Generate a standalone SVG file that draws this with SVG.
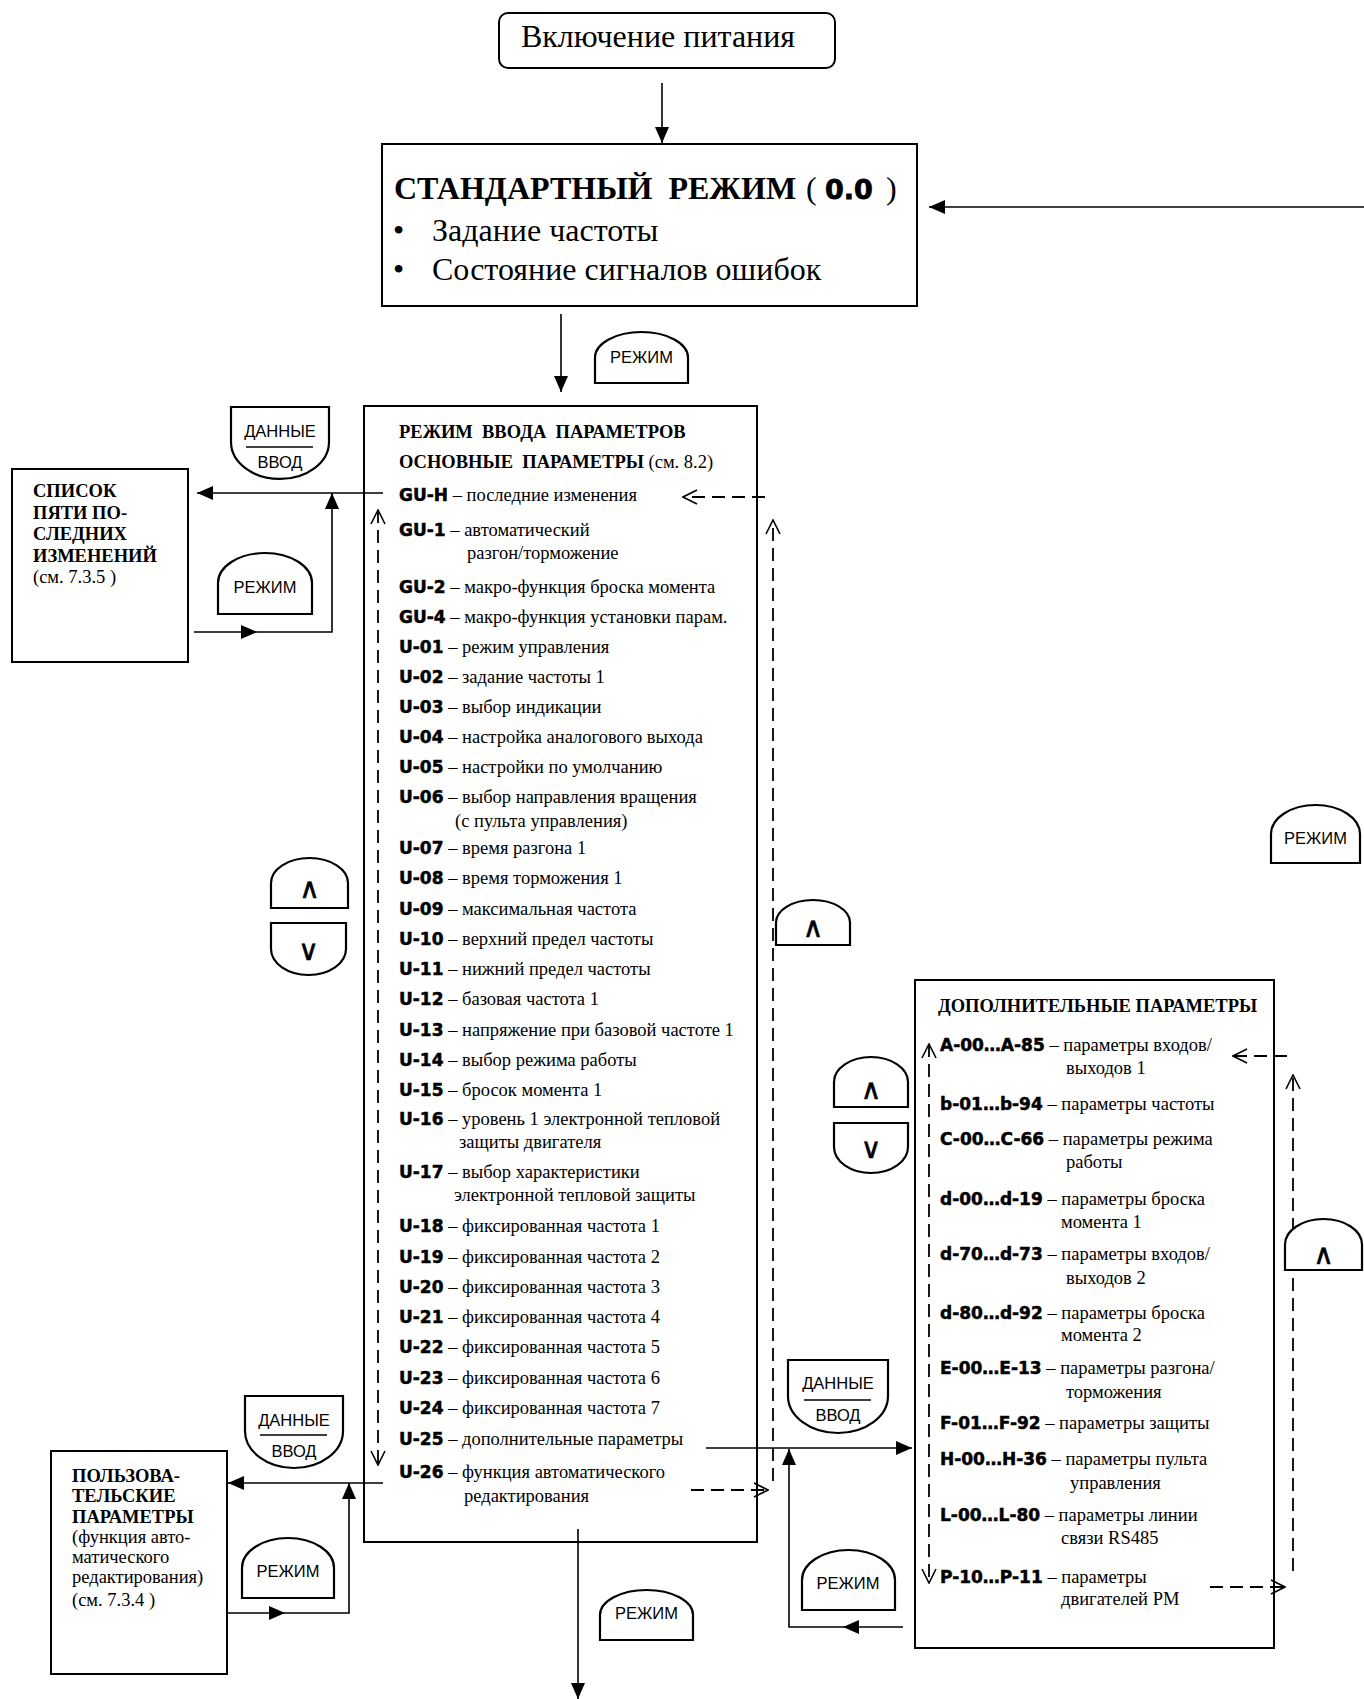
<svg xmlns="http://www.w3.org/2000/svg" width="1364" height="1699" viewBox="0 0 1364 1699">
<style>
.box{fill:#fff;stroke:#000;stroke-width:2}
.btn{fill:#fff;stroke:#000;stroke-width:2.2}
.ln{fill:none;stroke:#000;stroke-width:1.6}
.dash{fill:none;stroke:#000;stroke-width:1.8;stroke-dasharray:13 7}
.sf{font-family:"Liberation Serif","Times New Roman",serif;fill:#000}
.b{font-weight:bold}
.p{font-size:18.5px}
.code{font-family:"DejaVu Sans","Liberation Sans",sans-serif;font-weight:bold;font-size:17px;stroke:#000;stroke-width:0.5}
.bt{font-family:"Liberation Sans",Arial,sans-serif;font-size:16.5px;text-anchor:middle;dominant-baseline:central}
.gl{font-family:"DejaVu Sans",sans-serif;font-size:28px;text-anchor:middle;dominant-baseline:central;stroke:#000;stroke-width:0.6}
</style>
<defs>
<marker id="arr" viewBox="0 0 16 14" refX="16" refY="7" markerWidth="16" markerHeight="14" markerUnits="userSpaceOnUse" orient="auto"><path d="M0,0 L16,7 L0,14 Z" fill="#000"/></marker>
<marker id="chev" viewBox="0 0 16 16" refX="15" refY="8" markerWidth="16" markerHeight="16" markerUnits="userSpaceOnUse" orient="auto-start-reverse"><path d="M1,1 L15,8 L1,15" fill="none" stroke="#000" stroke-width="1.6"/></marker>
</defs>
<rect width="1364" height="1699" fill="#fff"/>

<g id="power">
<rect class="box" x="499" y="13" width="336" height="55" rx="9"/>
<text class="sf" x="658" y="47" font-size="32" text-anchor="middle">Включение питания</text>
</g>

<g id="standard">
<rect class="box" x="382" y="144" width="535" height="162"/>
<text class="sf b" x="394" y="199" font-size="32" xml:space="preserve">СТАНДАРТНЫЙ  РЕЖИМ<tspan x="806" font-weight="normal">(</tspan><tspan x="825" font-family="DejaVu Sans" font-size="27" stroke="#000" stroke-width="0.8">0.0</tspan><tspan x="886" font-weight="normal">)</tspan></text>
<text class="sf" y="241" font-size="32"><tspan x="393">•</tspan><tspan x="432">Задание частоты</tspan></text>
<text class="sf" y="280" font-size="32"><tspan x="393">•</tspan><tspan x="432">Состояние сигналов ошибок</tspan></text>
</g>

<g id="list5">
<rect class="box" x="12" y="469" width="176" height="193"/>
<text class="sf p b" x="33" y="497">СПИСОК</text>
<text class="sf p b" x="33" y="519">ПЯТИ ПО-</text>
<text class="sf p b" x="33" y="540">СЛЕДНИХ</text>
<text class="sf p b" x="33" y="562">ИЗМЕНЕНИЙ</text>
<text class="sf p" x="33" y="583">(см. 7.3.5 )</text>
</g>

<g id="userparams">
<rect class="box" x="51" y="1451" width="176" height="223"/>
<text class="sf p b" x="72" y="1482">ПОЛЬЗОВА-</text>
<text class="sf p b" x="72" y="1502">ТЕЛЬСКИЕ</text>
<text class="sf p b" x="72" y="1523">ПАРАМЕТРЫ</text>
<text class="sf p" x="72" y="1543">(функция авто-</text>
<text class="sf p" x="72" y="1563">матического</text>
<text class="sf p" x="72" y="1583">редактирования)</text>
<text class="sf p" x="72" y="1606">(см. 7.3.4 )</text>
</g>

<g id="parammode">
<rect class="box" x="364" y="406" width="393" height="1136"/>
<text class="sf p b" x="399" y="438" xml:space="preserve">РЕЖИМ  ВВОДА  ПАРАМЕТРОВ</text>
<text class="sf p b" x="399" y="468" xml:space="preserve">ОСНОВНЫЕ  ПАРАМЕТРЫ<tspan font-weight="normal"> (см. 8.2)</tspan></text>
<text class="sf p" x="399" y="501"><tspan class="code">GU-H</tspan> – последние изменения</text>
<text class="sf p" x="399" y="536"><tspan class="code">GU-1</tspan> – автоматический</text>
<text class="sf p" x="467" y="559">разгон/торможение</text>
<text class="sf p" x="399" y="593"><tspan class="code">GU-2</tspan> – макро-функция броска момента</text>
<text class="sf p" x="399" y="623"><tspan class="code">GU-4</tspan> – макро-функция установки парам.</text>
<text class="sf p" x="399" y="653"><tspan class="code">U-01</tspan> – режим управления</text>
<text class="sf p" x="399" y="683"><tspan class="code">U-02</tspan> – задание частоты 1</text>
<text class="sf p" x="399" y="713"><tspan class="code">U-03</tspan> – выбор индикации</text>
<text class="sf p" x="399" y="743"><tspan class="code">U-04</tspan> – настройка аналогового выхода</text>
<text class="sf p" x="399" y="773"><tspan class="code">U-05</tspan> – настройки по умолчанию</text>
<text class="sf p" x="399" y="803"><tspan class="code">U-06</tspan> – выбор направления вращения</text>
<text class="sf p" x="455" y="827">(с пульта управления)</text>
<text class="sf p" x="399" y="854"><tspan class="code">U-07</tspan> – время разгона 1</text>
<text class="sf p" x="399" y="884"><tspan class="code">U-08</tspan> – время торможения 1</text>
<text class="sf p" x="399" y="915"><tspan class="code">U-09</tspan> – максимальная частота</text>
<text class="sf p" x="399" y="945"><tspan class="code">U-10</tspan> – верхний предел частоты</text>
<text class="sf p" x="399" y="975"><tspan class="code">U-11</tspan> – нижний предел частоты</text>
<text class="sf p" x="399" y="1005"><tspan class="code">U-12</tspan> – базовая частота 1</text>
<text class="sf p" x="399" y="1036"><tspan class="code">U-13</tspan> – напряжение при базовой частоте 1</text>
<text class="sf p" x="399" y="1066"><tspan class="code">U-14</tspan> – выбор режима работы</text>
<text class="sf p" x="399" y="1096"><tspan class="code">U-15</tspan> – бросок момента 1</text>
<text class="sf p" x="399" y="1125"><tspan class="code">U-16</tspan> – уровень 1 электронной тепловой</text>
<text class="sf p" x="459" y="1148">защиты двигателя</text>
<text class="sf p" x="399" y="1178"><tspan class="code">U-17</tspan> – выбор характеристики</text>
<text class="sf p" x="454" y="1201">электронной тепловой защиты</text>
<text class="sf p" x="399" y="1232"><tspan class="code">U-18</tspan> – фиксированная частота 1</text>
<text class="sf p" x="399" y="1263"><tspan class="code">U-19</tspan> – фиксированная частота 2</text>
<text class="sf p" x="399" y="1293"><tspan class="code">U-20</tspan> – фиксированная частота 3</text>
<text class="sf p" x="399" y="1323"><tspan class="code">U-21</tspan> – фиксированная частота 4</text>
<text class="sf p" x="399" y="1353"><tspan class="code">U-22</tspan> – фиксированная частота 5</text>
<text class="sf p" x="399" y="1384"><tspan class="code">U-23</tspan> – фиксированная частота 6</text>
<text class="sf p" x="399" y="1414"><tspan class="code">U-24</tspan> – фиксированная частота 7</text>
<text class="sf p" x="399" y="1445"><tspan class="code">U-25</tspan> – дополнительные параметры</text>
<text class="sf p" x="399" y="1478"><tspan class="code">U-26</tspan> – функция автоматического</text>
<text class="sf p" x="464" y="1502">редактирования</text>
</g>

<g id="extparams">
<rect class="box" x="915" y="980" width="359" height="668"/>
<text class="sf p b" x="938" y="1012">ДОПОЛНИТЕЛЬНЫЕ ПАРАМЕТРЫ</text>
<text class="sf p" x="940" y="1051"><tspan class="code">A-00…A-85</tspan> – параметры входов/</text>
<text class="sf p" x="1066" y="1074">выходов 1</text>
<text class="sf p" x="940" y="1110"><tspan class="code">b-01…b-94</tspan> – параметры частоты</text>
<text class="sf p" x="940" y="1145"><tspan class="code">C-00…C-66</tspan> – параметры режима</text>
<text class="sf p" x="1066" y="1168">работы</text>
<text class="sf p" x="940" y="1205"><tspan class="code">d-00…d-19</tspan> – параметры броска</text>
<text class="sf p" x="1061" y="1228">момента 1</text>
<text class="sf p" x="940" y="1260"><tspan class="code">d-70…d-73</tspan> – параметры входов/</text>
<text class="sf p" x="1066" y="1284">выходов 2</text>
<text class="sf p" x="940" y="1319"><tspan class="code">d-80…d-92</tspan> – параметры броска</text>
<text class="sf p" x="1061" y="1341">момента 2</text>
<text class="sf p" x="940" y="1374"><tspan class="code">E-00…E-13</tspan> – параметры разгона/</text>
<text class="sf p" x="1066" y="1398">торможения</text>
<text class="sf p" x="940" y="1429"><tspan class="code">F-01…F-92</tspan> – параметры защиты</text>
<text class="sf p" x="940" y="1465"><tspan class="code">H-00…H-36</tspan> – параметры пульта</text>
<text class="sf p" x="1070" y="1489">управления</text>
<text class="sf p" x="940" y="1521"><tspan class="code">L-00…L-80</tspan> – параметры линии</text>
<text class="sf p" x="1061" y="1544">связи RS485</text>
<text class="sf p" x="940" y="1583"><tspan class="code">P-10…P-11</tspan> – параметры</text>
<text class="sf p" x="1061" y="1605">двигателей РМ</text>
</g>

<g id="connectors">
<path class="ln" d="M662,83 V143" marker-end="url(#arr)"/>
<path class="ln" d="M1364,207 H929" marker-end="url(#arr)"/>
<path class="ln" d="M561,314 V392" marker-end="url(#arr)"/>
<path class="ln" d="M383,493 H197" marker-end="url(#arr)"/>
<path class="ln" d="M194,632 H332 V493" marker-end="url(#arr)"/>
<polygon points="241,625 257,632 241,639"/>
<path class="ln" d="M383,1483 H228" marker-end="url(#arr)"/>
<path class="ln" d="M227,1613 H349 V1483" marker-end="url(#arr)"/>
<polygon points="269,1606 285,1613 269,1620"/>
<path class="ln" d="M706,1448 H912" marker-end="url(#arr)"/>
<path class="ln" d="M903,1627 H789 V1449" marker-end="url(#arr)"/>
<polygon points="859,1620 843,1627 859,1634"/>
<path class="ln" d="M578,1529 V1699" marker-end="url(#arr)"/>
<path class="dash" d="M378,510 V1465" marker-start="url(#chev)" marker-end="url(#chev)"/>
<path class="dash" d="M773,1481 V520" marker-end="url(#chev)"/>
<path class="dash" d="M765,497 H683" marker-end="url(#chev)"/>
<path class="dash" d="M691,1490 H768" marker-end="url(#chev)"/>
<path class="dash" d="M929,1044 V1583" marker-start="url(#chev)" marker-end="url(#chev)"/>
<path class="dash" d="M1293,1571 V1075" marker-end="url(#chev)"/>
<path class="dash" d="M1287,1056 H1233" marker-end="url(#chev)"/>
<path class="dash" d="M1210,1587 H1285" marker-end="url(#chev)"/>
</g>

<g id="btn-mode-top"><path class="btn" d="M595,383 V357.5 A46.5,25.5 0 0 1 688,357.5 V383 Z"/><text class="bt" x="641.5" y="357">РЕЖИМ</text></g>
<g id="btn-enter-list"><path class="btn" d="M231,407 H329 V442 A49,37 0 0 1 231,442 Z"/><text class="bt" x="280" y="431">ДАННЫЕ</text><line class="ln" x1="246" y1="447" x2="313" y2="447"/><text class="bt" x="280" y="462">ВВОД</text></g>
<g id="btn-mode-list"><path class="btn" d="M218,614 V583 A47,30 0 0 1 312,583 V614 Z"/><text class="bt" x="265" y="587">РЕЖИМ</text></g>
<g id="btn-up-left"><path class="btn" d="M271,908 V883 A38.5,25 0 0 1 348,883 V908 Z"/><text class="gl" x="309.5" y="888">∧</text></g>
<g id="btn-down-left"><path class="btn" d="M271,923 H346 V949 A37.5,26 0 0 1 271,949 Z"/><text class="gl" x="308.5" y="950">∨</text></g>
<g id="btn-up-mid"><path class="btn" d="M776,945 V922.5 A37,22.5 0 0 1 850,922.5 V945 Z"/><text class="gl" x="813" y="927">∧</text></g>
<g id="btn-enter-user"><path class="btn" d="M245,1396 H343 V1431 A49,37 0 0 1 245,1431 Z"/><text class="bt" x="294" y="1420">ДАННЫЕ</text><line class="ln" x1="260" y1="1435" x2="327" y2="1435"/><text class="bt" x="294" y="1451">ВВОД</text></g>
<g id="btn-mode-user"><path class="btn" d="M242,1598 V1568 A46,30 0 0 1 334,1568 V1598 Z"/><text class="bt" x="288" y="1571">РЕЖИМ</text></g>
<g id="btn-mode-bottom"><path class="btn" d="M600,1640 V1615 A46.5,25 0 0 1 693,1615 V1640 Z"/><text class="bt" x="646.5" y="1613">РЕЖИМ</text></g>
<g id="btn-up-ext"><path class="btn" d="M834,1107 V1082 A37,25 0 0 1 908,1082 V1107 Z"/><text class="gl" x="871" y="1089">∧</text></g>
<g id="btn-down-ext"><path class="btn" d="M834,1123 H908 V1147 A37,26 0 0 1 834,1147 Z"/><text class="gl" x="871" y="1148">∨</text></g>
<g id="btn-enter-ext"><path class="btn" d="M788,1360 H888 V1396 A50,37 0 0 1 788,1396 Z"/><text class="bt" x="838" y="1383">ДАННЫЕ</text><line class="ln" x1="804" y1="1400" x2="871" y2="1400"/><text class="bt" x="838" y="1415">ВВОД</text></g>
<g id="btn-mode-ext"><path class="btn" d="M802,1610 V1580 A46.5,30 0 0 1 895,1580 V1610 Z"/><text class="bt" x="848" y="1583">РЕЖИМ</text></g>
<g id="btn-mode-right"><path class="btn" d="M1271,863 V834 A44.5,29 0 0 1 1360,834 V863 Z"/><text class="bt" x="1315.5" y="838">РЕЖИМ</text></g>
<g id="btn-up-right"><path class="btn" d="M1285,1270 V1244.5 A38.5,25.5 0 0 1 1362,1244.5 V1270 Z"/><text class="gl" x="1323.5" y="1254">∧</text></g>
</svg>
